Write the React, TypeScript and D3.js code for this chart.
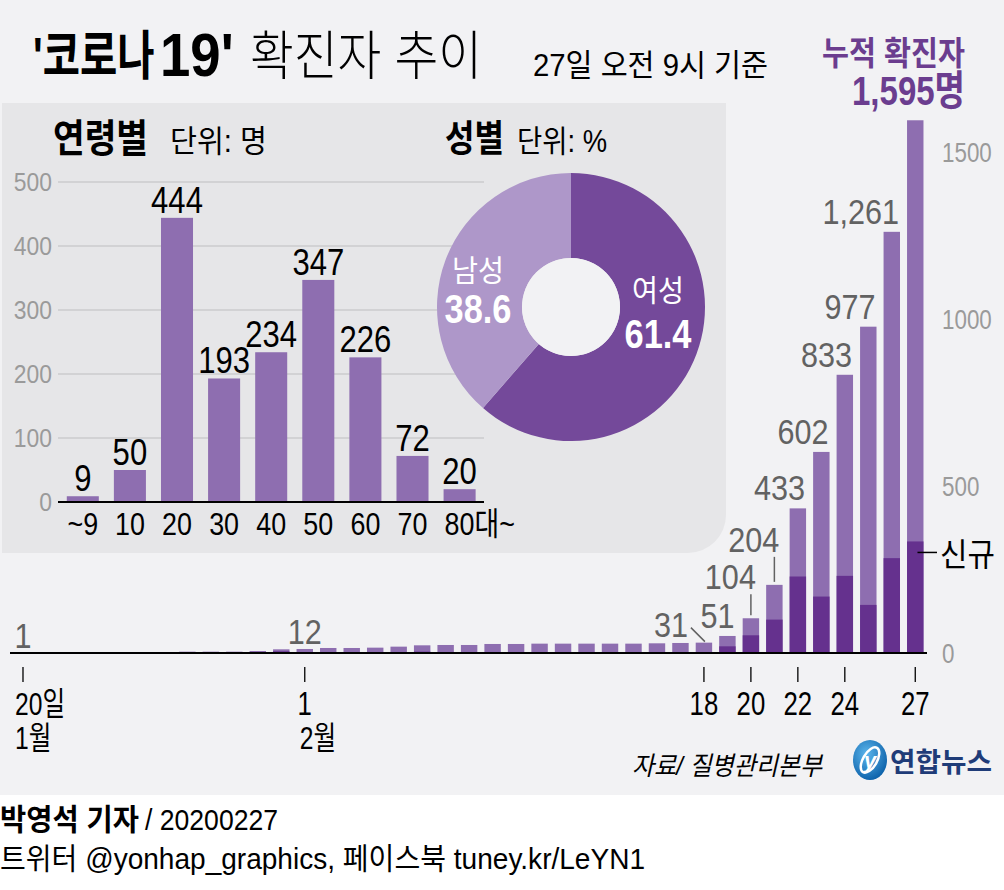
import React from "react";
import * as d3 from "d3";

// ---------- data ----------
const days = [
  "1/20", "1/21", "1/22", "1/23", "1/24", "1/25", "1/26", "1/27", "1/28", "1/29", "1/30", "1/31",
  "2/1", "2/2", "2/3", "2/4", "2/5", "2/6", "2/7", "2/8", "2/9", "2/10", "2/11", "2/12", "2/13",
  "2/14", "2/15", "2/16", "2/17", "2/18", "2/19", "2/20", "2/21", "2/22", "2/23", "2/24", "2/25",
  "2/26", "2/27",
];
const cumulative = [
  1, 1, 1, 1, 2, 2, 3, 4, 4, 4, 6, 11,
  12, 15, 15, 16, 19, 23, 24, 24, 27, 27, 28, 28, 28, 28, 28, 29, 30, 31,
  51, 104, 204, 433, 602, 833, 977, 1261, 1595,
];
const newCases = [
  1, 0, 0, 0, 1, 0, 1, 1, 0, 0, 2, 5,
  1, 3, 0, 1, 3, 4, 1, 0, 3, 0, 1, 0, 0, 0, 0, 1, 1, 1,
  20, 53, 100, 229, 169, 231, 144, 284, 334,
];
const labeledDays = ["1/20", "2/1", "2/18", "2/19", "2/20", "2/21", "2/22", "2/23", "2/24", "2/25", "2/26"];
const labelKinds = ["center", "center", "diag", "right", "lead", "lead", "right", "right", "right", "right", "right"];
const leadLength: Record<string, number> = { "2/20": 21, "2/21": 25 };

const tickDays = ["1/20", "2/1", "2/18", "2/20", "2/22", "2/24", "2/27"];
const tickLabels = ["20일", "1", "18", "20", "22", "24", "27"];
const tickMonths = ["1월", "2월", "", "", "", "", ""];
const mainTicks = [0, 500, 1000, 1500];

const ageGroups = ["~9", "10", "20", "30", "40", "50", "60", "70", "80대~"];
const ageCounts = [9, 50, 444, 193, 234, 347, 226, 72, 20];
const ageTicks = [0, 100, 200, 300, 400, 500];

const genders = ["여성", "남성"];
const genderShares = [61.4, 38.6];

// ---------- style ----------
const W = 1004;
const H = 890;
const FONT = "'Liberation Sans','Noto Sans CJK KR',sans-serif";
const BG = "#f2f2f4";
const PANEL = "#e6e6e8";
const LIGHT = "#8e6eb0";
const DARK = "#65318e";
const FEMALE = "#74499a";
const MALE = "#ae97c9";
const PURPLE_TXT = "#6b3d8f";
const GRID = "#d2d2d4";
const AXIS_GREY = "#9a9a9a";
const LABEL_GREY = "#626262";

type SProps = {
  x: number; y: number; s?: number; size: number; w?: number; fill?: string;
  a?: "start" | "middle" | "end"; children: React.ReactNode; italic?: boolean;
};
const S = ({ x, y, s = 1, size, w = 400, fill = "#000", a = "start", children, italic }: SProps) => (
  <text
    transform={`translate(${x},${y}) scale(${s},1)`}
    fontSize={size}
    fontWeight={w}
    fill={fill}
    textAnchor={a}
    fontFamily={FONT}
    fontStyle={italic ? "italic" : undefined}
  >
    {children}
  </text>
);

type LProps = {
  x: number; y: number; len: number; size: number; w?: number; fill?: string;
  children: React.ReactNode; italic?: boolean;
};
const L = ({ x, y, len, size, w = 400, fill = "#000", children, italic }: LProps) => (
  <text
    x={x}
    y={y}
    fontSize={size}
    fontWeight={w}
    fill={fill}
    fontFamily={FONT}
    textLength={len}
    lengthAdjust="spacingAndGlyphs"
    fontStyle={italic ? "italic" : undefined}
  >
    {children}
  </text>
);

export default function App() {
  // main chart scales
  const xm = d3.scaleBand<string>().domain(days).range([11.25, 927]).paddingInner(0.3).paddingOuter(0.15);
  const ym = d3.scaleLinear().domain([0, 1500]).range([653, 152]);
  const bw = xm.bandwidth();
  const base = ym(0);
  const fmt = d3.format(",");

  // inset scales
  const xa = d3.scaleBand<string>().domain(ageGroups).range([59.25, 483.15]).paddingInner(0.32).paddingOuter(0.16);
  const ya = d3.scaleLinear().domain([0, 500]).range([502, 182]);
  const abw = xa.bandwidth();

  // donut
  const cx = 571;
  const cy = 307;
  const pieData = d3.pie<number>().sort(null).value((d) => d)(genderShares);
  const arc = d3.arc<d3.PieArcDatum<number>>().innerRadius(49).outerRadius(134);
  const genderColors = [FEMALE, MALE];
  const genderLabelPos = [
    { x: 658, y1: 301, y2: 348 },
    { x: 478, y1: 281, y2: 323 },
  ];

  const lastIdx = days.length - 1;
  const lastDay = days[lastIdx];

  return (
    <svg
      width={W}
      height={H}
      viewBox={`0 0 ${W} ${H}`}
      style={{ position: "absolute", left: 0, top: 0, display: "block" }}
    >
      <defs>
        <radialGradient id="globe" cx="40%" cy="35%" r="70%">
          <stop offset="0%" stopColor="#5cb6ec" />
          <stop offset="100%" stopColor="#0a5fa8" />
        </radialGradient>
      </defs>
      <rect x={0} y={0} width={W} height={H} fill="#ffffff" />
      <rect x={0} y={0} width={W} height={795} fill={BG} />

      {/* Title */}
      <S x={33} y={75} s={0.765} size={53} w={700}>'코로나</S>
      <S x={160} y={76} s={0.88} size={62} w={700}>19'</S>
      <L x={250} y={75} len={232} size={53} w={300}>확진자 추이</L>
      <L x={533} y={76} len={235} size={31}>27일 오전 9시 기준</L>

      {/* cumulative header */}
      <L x={822} y={65} len={143} size={33} w={700} fill={PURPLE_TXT}>누적 확진자</L>
      <L x={852} y={105} len={113} size={41} w={700} fill={PURPLE_TXT}>{fmt(cumulative[lastIdx]) + "명"}</L>

      {/* inset panel */}
      <path d="M2,103 H726 V515 A38,38 0 0 1 688,553 H2 Z" fill={PANEL} />

      <L x={53} y={152} len={95} size={39} w={700}>연령별</L>
      <L x={170} y={152} len={97} size={31}>단위: 명</L>
      <L x={445} y={152} len={59} size={37} w={700}>성별</L>
      <L x={517} y={152} len={90} size={31}>단위: %</L>

      {/* inset grid + y axis */}
      {ageTicks.map((t) => (
        <g key={"at" + t}>
          {t > 0 && <line x1={58} x2={484} y1={ya(t)} y2={ya(t)} stroke={GRID} strokeWidth={2} />}
          <S x={52} y={ya(t) + 9} s={0.88} size={26} fill={AXIS_GREY} a="end">
            {t}
          </S>
        </g>
      ))}

      {/* inset bars */}
      {ageGroups.map((g, i) => {
        const x = xa(g)!;
        const v = ageCounts[i];
        return (
          <g key={"ab" + g}>
            <rect x={x} y={ya(v)} width={abw} height={ya(0) - ya(v)} fill={LIGHT} />
            <S x={x + abw / 2} y={ya(v) - 5} s={0.84} size={37} a="middle">
              {v}
            </S>
            {i === ageGroups.length - 1 ? (
              <S x={x + abw / 2 - 15} y={535} s={0.84} size={32}>
                {g}
              </S>
            ) : (
              <S x={x + abw / 2} y={535} s={0.84} size={32} a="middle">
                {g}
              </S>
            )}
          </g>
        );
      })}
      <line x1={58} x2={484} y1={ya(0)} y2={ya(0)} stroke="#000" strokeWidth={2} />

      {/* donut */}
      <g transform={`translate(${cx},${cy})`}>
        {pieData.map((p, i) => (
          <path key={"pie" + i} d={arc(p) || ""} fill={genderColors[i]} />
        ))}
        <circle r={49} fill={BG} />
      </g>
      {genders.map((g, i) => (
        <g key={"gl" + g}>
          <L x={genderLabelPos[i].x - 26} y={genderLabelPos[i].y1} len={52} size={30} fill="#fff">
            {g}
          </L>
          <S x={genderLabelPos[i].x} y={genderLabelPos[i].y2} s={0.86} size={40} w={700} fill="#fff" a="middle">
            {genderShares[i].toFixed(1)}
          </S>
        </g>
      ))}

      {/* main bars */}
      {days.map((d, i) => {
        const x = xm(d)!;
        const v = cumulative[i];
        const n = newCases[i];
        return (
          <g key={"mb" + d}>
            <rect x={x} y={ym(v)} width={bw} height={base - ym(v)} fill={LIGHT} />
            {n > 0 && <rect x={x} y={ym(n)} width={bw} height={base - ym(n)} fill={DARK} />}
          </g>
        );
      })}
      <line x1={10} x2={927} y1={base} y2={base} stroke="#000" strokeWidth={2} />

      {/* main value labels */}
      {labeledDays.map((d, k) => {
        const i = days.indexOf(d);
        const v = cumulative[i];
        const x = xm(d)!;
        const c = x + bw / 2;
        const top = ym(v);
        const kind = labelKinds[k];
        const txt = fmt(v);
        if (kind === "center") {
          return (
            <S key={"lb" + d} x={c} y={top - 5} s={0.85} size={36} fill={LABEL_GREY} a="middle">
              {txt}
            </S>
          );
        }
        if (kind === "diag") {
          return (
            <g key={"lb" + d}>
              <line x1={c - 13} y1={top - 15} x2={c + 1} y2={top - 1} stroke={LABEL_GREY} strokeWidth={1.5} />
              <S x={c - 16} y={top - 6} s={0.85} size={36} fill={LABEL_GREY} a="end">
                {txt}
              </S>
            </g>
          );
        }
        if (kind === "lead") {
          const ll = leadLength[d];
          return (
            <g key={"lb" + d}>
              <line x1={c} x2={c} y1={top - 3} y2={top - 3 - ll} stroke={LABEL_GREY} strokeWidth={1.5} />
              <S x={c + 5} y={top - ll - 8} s={0.85} size={36} fill={LABEL_GREY} a="end">
                {txt}
              </S>
            </g>
          );
        }
        return (
          <S key={"lb" + d} x={x + bw - 1} y={top - 8} s={0.85} size={36} fill={LABEL_GREY} a="end">
            {txt}
          </S>
        );
      })}

      {/* right axis labels */}
      {mainTicks.map((t) => (
        <S key={"mt" + t} x={942} y={ym(t) + 10} s={0.8} size={28} fill={AXIS_GREY}>
          {t}
        </S>
      ))}

      {/* 신규 legend */}
      <line
        x1={xm(lastDay)! + bw - 6}
        x2={937}
        y1={ym(newCases[lastIdx]) + 11}
        y2={ym(newCases[lastIdx]) + 11}
        stroke="#000"
        strokeWidth={1.5}
      />
      <L x={940} y={ym(newCases[lastIdx]) + 25} len={55} size={32}>신규</L>

      {/* x ticks */}
      {tickDays.map((d, k) => {
        const c = xm(d)! + bw / 2;
        const lab = tickLabels[k];
        const hasHangul = /[가-힣]/.test(lab);
        return (
          <g key={"tk" + d}>
            <line x1={c} x2={c} y1={667} y2={682} stroke="#000" strokeWidth={1.3} />
            {hasHangul ? (
              <S x={c - 8} y={715} s={0.77} size={32}>
                {lab}
              </S>
            ) : (
              <S x={c} y={715} s={0.78} size={33} a="middle">
                {lab}
              </S>
            )}
            {tickMonths[k] && (
              <S x={c - (k === 0 ? 8 : 5)} y={749} s={0.77} size={32}>
                {tickMonths[k]}
              </S>
            )}
          </g>
        );
      })}

      {/* source + logo */}
      <L x={632} y={775} len={190} size={26} italic>
        자료/ 질병관리본부
      </L>
      <g transform="translate(870,760)">
        <ellipse rx={17} ry={20} fill="url(#globe)" />
        <ellipse rx={14} ry={7} transform="rotate(-60)" fill="none" stroke="#ffffff" strokeWidth={2.5} />
        <text x={0} y={8} fontSize={22} fontWeight={700} fontStyle="italic" fill="#ffffff" textAnchor="middle" fontFamily={FONT}>
          y
        </text>
      </g>
      <L x={890} y={772} len={102} size={27} w={700} fill="#1f3c78">
        연합뉴스
      </L>

      {/* footer */}
      <L x={0} y={830} len={139} size={30} w={700}>박영석 기자</L>
      <L x={145} y={830} len={133} size={30}>/ 20200227</L>
      <L x={0} y={869} len={645} size={30}>트위터 @yonhap_graphics, 페이스북 tuney.kr/LeYN1</L>
    </svg>
  );
}
